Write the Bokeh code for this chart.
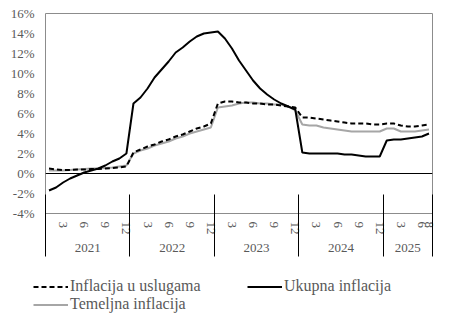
from bokeh.plotting import figure
from bokeh.layouts import column
from bokeh.models import (Range1d, FixedTicker, LinearAxis, Span, Legend, LegendItem,
                          PrintfTickFormatter)
from bokeh.embed import file_html
from bokeh.resources import INLINE

# ---- data (percent, monthly Jan 2021 - Jul 2025) ----
years = ["2021", "2022", "2023", "2024", "2025"]
months_per_year = [12, 12, 12, 12, 7]
month_labels = {3: "3", 6: "6", 9: "9", 12: "12"}
last_label = "8"

inflacija_usluge = [
    0.5, 0.4, 0.35, 0.35, 0.4, 0.4, 0.45, 0.45, 0.5, 0.55, 0.6, 0.7,
    2.1, 2.4, 2.7, 2.9, 3.2, 3.4, 3.7, 3.9, 4.2, 4.5, 4.7, 5.0,
    7.0, 7.2, 7.2, 7.1, 7.1, 7.0, 7.0, 6.9, 6.9, 6.8, 6.7, 6.6,
    5.6, 5.6, 5.5, 5.4, 5.3, 5.2, 5.1, 5.0, 5.0, 5.0, 4.9, 4.9,
    5.0, 5.0, 4.8, 4.7, 4.7, 4.8, 4.9,
]
ukupna_inflacija = [
    -1.7, -1.4, -0.9, -0.5, -0.2, 0.1, 0.3, 0.5, 0.8, 1.2, 1.5, 2.0,
    7.0, 7.6, 8.5, 9.6, 10.4, 11.2, 12.1, 12.6, 13.2, 13.7, 14.0, 14.1,
    14.2, 13.5, 12.5, 11.3, 10.3, 9.3, 8.5, 7.9, 7.4, 7.0, 6.7, 6.4,
    2.1, 2.0, 2.0, 2.0, 2.0, 2.0, 1.9, 1.9, 1.8, 1.7, 1.7, 1.7,
    3.3, 3.4, 3.4, 3.5, 3.6, 3.7, 4.0,
]
temeljna_inflacija = [
    0.3, 0.3, 0.3, 0.35, 0.4, 0.45, 0.5, 0.5, 0.55, 0.6, 0.7, 0.8,
    2.0, 2.3, 2.5, 2.8, 3.0, 3.2, 3.5, 3.7, 4.0, 4.2, 4.4, 4.6,
    6.6, 6.7, 6.8, 7.0, 7.1, 7.1, 7.0, 7.0, 6.9, 6.9, 6.7, 6.3,
    4.9, 4.8, 4.8, 4.6, 4.5, 4.4, 4.3, 4.2, 4.2, 4.2, 4.2, 4.2,
    4.5, 4.5, 4.2, 4.2, 4.2, 4.3, 4.4,
]
y_ticks = [-4, -2, 0, 2, 4, 6, 8, 10, 12, 14, 16]

FONT = "Liberation Serif"
TXT = "#595959"

n = sum(months_per_year)
x = list(range(1, n + 1))

m_ticks, m_over = [], {}
bounds, y_centres, y_over = [0.5], [], {}
k0 = 0
for yr, nm in zip(years, months_per_year):
    for m in range(1, nm + 1):
        if m in month_labels:
            m_ticks.append(k0 + m)
            m_over[k0 + m] = month_labels[m]
    if nm < 12:
        m_ticks.append(k0 + nm)
        m_over[k0 + nm] = last_label
    c = k0 + (nm + 1) / 2
    y_centres.append(c)
    y_over[c] = yr
    k0 += nm
    bounds.append(k0 + 0.5)

p = figure(width=450, height=262, output_backend="svg", toolbar_location=None,
           x_range=Range1d(0.5, n + 0.5), y_range=Range1d(-4, 16),
           x_axis_type=None, y_axis_type=None,
           min_border_left=45, min_border_right=18, min_border_top=13,
           min_border_bottom=49)
p.frame_align = False
p.outline_line_color = "#8c8c8c"
p.outline_line_width = 1
p.background_fill_color = "white"
p.border_fill_color = "white"


def style_axis(ax, standoff):
    ax.axis_line_color = None
    ax.major_tick_line_color = None
    ax.minor_tick_line_color = None
    ax.major_tick_out = 0
    ax.major_tick_in = 0
    ax.minor_tick_out = 0
    ax.minor_tick_in = 0
    ax.major_label_standoff = standoff
    ax.major_label_text_font = FONT
    ax.major_label_text_font_size = "13px"
    ax.major_label_text_color = TXT


yax = LinearAxis(ticker=FixedTicker(ticks=y_ticks),
                 formatter=PrintfTickFormatter(format="%d%%"))
style_axis(yax, 11)
p.add_layout(yax, "left")

# month labels
xa = LinearAxis(ticker=FixedTicker(ticks=m_ticks))
xa.major_label_overrides = m_over
xa.major_label_orientation = "vertical"
style_axis(xa, 8)
p.add_layout(xa, "below")

# year labels
xb = LinearAxis(ticker=FixedTicker(ticks=y_centres))
xb.major_label_overrides = y_over
style_axis(xb, 6)
p.add_layout(xb, "below")

# year separators (minor ticks reaching up to the plot frame)
xc = LinearAxis(ticker=FixedTicker(ticks=[], minor_ticks=bounds))
style_axis(xc, 0)
xc.minor_tick_line_color = "black"
xc.minor_tick_in = 60
xc.minor_tick_out = 2
p.add_layout(xc, "below")

p.ygrid.ticker = FixedTicker(ticks=y_ticks)
p.ygrid.grid_line_color = "#d9d9d9"
p.xgrid.grid_line_color = None

zero = Span(location=0, dimension="width", line_color="black", line_width=1, level="underlay")
p.add_layout(zero)

sty_t = dict(line_color="#a6a6a6", line_width=2)
sty_u = dict(line_color="black", line_width=2, line_dash="5 3")
sty_k = dict(line_color="black", line_width=2)

p.line(x, temeljna_inflacija, **sty_t)
p.line(x, inflacija_usluge, **sty_u)
p.line(x, ukupna_inflacija, **sty_k)

# legend host below the chart (one-point proxies: draw nothing themselves)
q = figure(width=450, height=59, output_backend="svg", toolbar_location=None,
           x_axis_type=None, y_axis_type=None, min_border=0,
           x_range=Range1d(0, 1), y_range=Range1d(0, 1))
q.frame_align = False
q.outline_line_color = None
q.xgrid.grid_line_color = None
q.ygrid.grid_line_color = None
lt = q.line(x[:1], temeljna_inflacija[:1], **sty_t)
lu = q.line(x[:1], inflacija_usluge[:1], **sty_u)
lk = q.line(x[:1], ukupna_inflacija[:1], **sty_k)

legend = Legend(items=[LegendItem(label="Inflacija u uslugama", renderers=[lu]),
                       LegendItem(label="Temeljna inflacija", renderers=[lt]),
                       LegendItem(label="Ukupna inflacija", renderers=[lk])],
                location=(33, 8), orientation="vertical", nrows=2)
legend.margin = 0
legend.padding = 0
legend.spacing = 0
legend.label_width = 177
legend.glyph_width = 35
legend.glyph_height = 17
legend.label_height = 17
legend.label_standoff = 2
legend.border_line_color = None
legend.background_fill_alpha = 0
legend.label_text_font = FONT
legend.label_text_font_size = "16px"
legend.label_text_color = TXT
q.add_layout(legend)

layout = column(p, q, spacing=0)
open("out.html", "w").write(file_html(layout, INLINE))
